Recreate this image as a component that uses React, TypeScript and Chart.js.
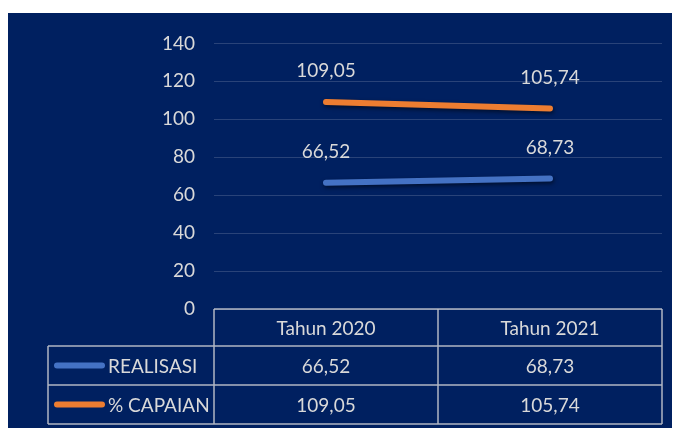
import React, { useEffect, useRef } from "react";
import { Chart, registerables } from "chart.js";

Chart.register(...registerables);

const categories = ["Tahun 2020", "Tahun 2021"];
const seriesNames = ["REALISASI", "% CAPAIAN"];
const realisasi = [66.52, 68.73];
const capaian = [109.05, 105.74];
const seriesColors = ["#4472C4", "#ED7D31"];
const yMin = 0;
const yMax = 140;
const yStep = 20;

const NAVY = "#002060";
const TEXT = "#d9d9d9";
const TABLE_LINE = "rgba(220,220,220,0.8)";
const FONT = "Lato, 'Open Sans', sans-serif";
const FONT_SIZE = 19;

const fmt = (v: number) => v.toFixed(2).replace(".", ",");

const bgPlugin = {
  id: "bg",
  beforeDraw(chart: any) {
    const { ctx, width, height } = chart;
    ctx.save();
    ctx.fillStyle = NAVY;
    ctx.fillRect(0, 0, width, height);
    ctx.restore();
  },
};

const shadowPlugin = {
  id: "lineShadow",
  beforeDatasetDraw(chart: any) {
    const ctx = chart.ctx;
    ctx.save();
    ctx.shadowColor = "rgba(0,0,0,0.55)";
    ctx.shadowBlur = 4;
    ctx.shadowOffsetX = 1;
    ctx.shadowOffsetY = 2;
  },
  afterDatasetDraw(chart: any) {
    chart.ctx.restore();
  },
};

const labelPlugin = {
  id: "valueLabels",
  afterDatasetsDraw(chart: any) {
    const ctx = chart.ctx;
    ctx.save();
    ctx.font = `${FONT_SIZE}px ${FONT}`;
    ctx.fillStyle = TEXT;
    ctx.textAlign = "center";
    ctx.textBaseline = "middle";
    chart.data.datasets.forEach((ds: any, di: number) => {
      const meta = chart.getDatasetMeta(di);
      meta.data.forEach((pt: any, i: number) => {
        ctx.fillText(fmt(ds.data[i]), pt.x, pt.y - 31);
      });
    });
    ctx.restore();
  },
};

const tablePlugin = {
  id: "dataTable",
  afterDraw(chart: any) {
    const ctx = chart.ctx;
    const area = chart.chartArea;
    const xs = chart.scales.x;
    const n = categories.length;
    const colW = (area.right - area.left) / n;
    const top = area.bottom;
    const rowH = [37, 39, 39];
    const r1 = top + rowH[0];
    const r2 = r1 + rowH[1];
    const r3 = r2 + rowH[2];
    const legendLeft = 40;

    ctx.save();
    ctx.strokeStyle = TABLE_LINE;
    ctx.lineWidth = 1.5;
    ctx.beginPath();
    // horizontal lines
    ctx.moveTo(area.left, top);
    ctx.lineTo(area.right, top);
    [r1, r2, r3].forEach((y) => {
      ctx.moveTo(legendLeft, y);
      ctx.lineTo(area.right, y);
    });
    // vertical lines
    for (let i = 0; i <= n; i++) {
      const x = area.left + colW * i;
      ctx.moveTo(x, top);
      ctx.lineTo(x, r3);
    }
    ctx.moveTo(legendLeft, r1);
    ctx.lineTo(legendLeft, r3);
    ctx.stroke();

    ctx.font = `${FONT_SIZE}px ${FONT}`;
    ctx.fillStyle = TEXT;
    ctx.textBaseline = "middle";
    ctx.textAlign = "center";
    categories.forEach((c, i) => {
      const x = xs.getPixelForValue(i);
      ctx.fillText(c, x, (top + r1) / 2 + 1);
    });
    const rows = [realisasi, capaian];
    const rowYs = [(r1 + r2) / 2 + 1, (r2 + r3) / 2 + 1];
    rows.forEach((vals, ri) => {
      vals.forEach((v, i) => {
        const x = xs.getPixelForValue(i);
        ctx.fillText(fmt(v), x, rowYs[ri]);
      });
    });
    // legend keys
    ctx.textAlign = "left";
    seriesNames.forEach((name, ri) => {
      const y = rowYs[ri] - 1;
      ctx.strokeStyle = seriesColors[ri];
      ctx.lineWidth = 6;
      ctx.lineCap = "round";
      ctx.beginPath();
      ctx.moveTo(49, y);
      ctx.lineTo(94, y);
      ctx.stroke();
      ctx.fillStyle = TEXT;
      ctx.fillText(name, 100, rowYs[ri]);
    });
    ctx.restore();
  },
};

export default function App() {
  const ref = useRef<HTMLCanvasElement | null>(null);
  useEffect(() => {
    if (!ref.current) return;
    const chart = new Chart(ref.current, {
      type: "line",
      data: {
        labels: categories,
        datasets: [
          {
            label: seriesNames[0],
            data: realisasi,
            borderColor: seriesColors[0],
            backgroundColor: seriesColors[0],
            borderWidth: 6,
            borderCapStyle: "round",
            pointRadius: 0,
          },
          {
            label: seriesNames[1],
            data: capaian,
            borderColor: seriesColors[1],
            backgroundColor: seriesColors[1],
            borderWidth: 6,
            borderCapStyle: "round",
            pointRadius: 0,
          },
        ],
      },
      options: {
        animation: false,
        responsive: false,
        maintainAspectRatio: false,
        layout: { padding: { top: 30, right: 18, bottom: 119, left: 0 } },
        plugins: {
          legend: { display: false },
          tooltip: { enabled: false },
        },
        scales: {
          x: {
            type: "category",
            display: false,
            offset: true,
          },
          y: {
            min: yMin,
            max: yMax,
            border: { display: false },
            grid: {
              color: "rgba(255,255,255,0.16)",
              lineWidth: 1,
              drawTicks: false,
            },
            ticks: {
              stepSize: yStep,
              padding: 19,
              color: TEXT,
              font: { family: FONT, size: FONT_SIZE },
            },
            afterFit(scale: any) {
              scale.width = 206;
            },
          },
        },
      },
      plugins: [bgPlugin, shadowPlugin, labelPlugin, tablePlugin],
    });
    return () => chart.destroy();
  }, []);
  return (
    <div style={{ paddingTop: 5 }}>
      <canvas ref={ref} width={672} height={415} style={{ display: "block", width: 672, height: 415 }} />
    </div>
  );
}
